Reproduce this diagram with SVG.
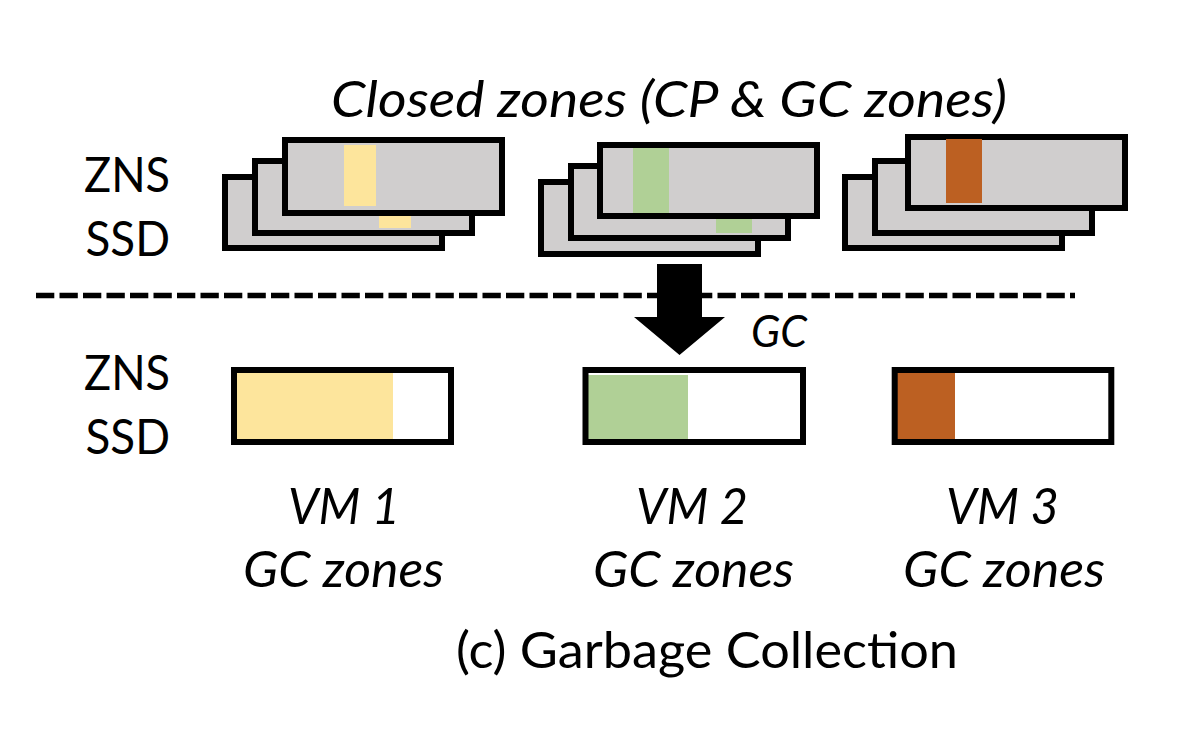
<svg xmlns="http://www.w3.org/2000/svg" width="1204" height="738" viewBox="0 0 1204 738">
<style>
.zone{fill:#D0CECE;stroke:#000;stroke-width:6}
.box{fill:none;stroke:#000;stroke-width:6}
.t{font-family:Lato,"Open Sans","Liberation Sans",sans-serif;fill:#000}
.i{font-style:italic}
.y{fill:#FDE59C}.g{fill:#B0D096}.o{fill:#BC6022}
</style>
<rect width="1204" height="738" fill="#fff"/>
<g id="label-closed">
<text class="t i" x="331" y="117" font-size="50" textLength="676" lengthAdjust="spacingAndGlyphs">Closed zones (CP &amp; GC zones)</text>
</g>
<g id="label-zns-top">
<text class="t" x="84" y="192" font-size="49" textLength="86" lengthAdjust="spacingAndGlyphs">ZNS</text>
<text class="t" x="85.5" y="256" font-size="49" textLength="84.5" lengthAdjust="spacingAndGlyphs">SSD</text>
</g>
<g id="label-zns-bottom">
<text class="t" x="84" y="390" font-size="49" textLength="86" lengthAdjust="spacingAndGlyphs">ZNS</text>
<text class="t" x="85.5" y="454" font-size="49" textLength="84.5" lengthAdjust="spacingAndGlyphs">SSD</text>
</g>
<g id="closed-vm1">
<rect class="zone" x="225" y="177" width="217" height="71"/>
<rect class="zone" x="255" y="161" width="217" height="72"/>
<rect class="y" x="379" y="170" width="32" height="58"/>
<rect class="zone" x="285" y="140" width="217" height="73"/>
<rect class="y" x="344" y="145" width="32" height="61"/>
</g>
<g id="closed-vm2">
<rect class="zone" x="541" y="182" width="217" height="72"/>
<rect class="zone" x="571" y="166" width="217" height="72"/>
<rect class="g" x="716" y="175" width="36" height="58"/>
<rect class="zone" x="600" y="145" width="217" height="71"/>
<rect class="g" x="633" y="148" width="36" height="65"/>
</g>
<g id="closed-vm3">
<rect class="zone" x="845" y="177" width="217" height="71"/>
<rect class="zone" x="875" y="161" width="217" height="72"/>
<rect class="zone" x="908" y="137" width="217" height="71"/>
<rect class="o" x="946" y="139" width="36" height="64"/>
</g>
<g id="connectors">
<line x1="36" y1="295.5" x2="1075" y2="295.5" stroke="#000" stroke-width="5.5" stroke-dasharray="18.3 5.2"/>
<polygon points="657,264 702,264 702,317 725,317 679.5,355 634,317 657,317" fill="#000"/>
<text class="t i" x="751" y="347" font-size="45" textLength="56" lengthAdjust="spacingAndGlyphs">GC</text>
</g>
<g id="gc-vm1">
<rect fill="#fff" x="234" y="370" width="217" height="72"/>
<rect class="y" x="236" y="373" width="157" height="66"/>
<rect class="box" x="234" y="370" width="217" height="72"/>
<text class="t i" x="288" y="524" font-size="51" textLength="112" lengthAdjust="spacingAndGlyphs">VM 1</text>
<text class="t i" x="243" y="587" font-size="51" textLength="201" lengthAdjust="spacingAndGlyphs">GC zones</text>
</g>
<g id="gc-vm2">
<rect fill="#fff" x="585.5" y="370" width="217.5" height="72"/>
<rect class="g" x="586" y="375" width="102" height="64"/>
<rect class="box" x="585.5" y="370" width="217.5" height="72"/>
<text class="t i" x="636" y="524" font-size="51" textLength="112" lengthAdjust="spacingAndGlyphs">VM 2</text>
<text class="t i" x="593" y="587" font-size="51" textLength="201" lengthAdjust="spacingAndGlyphs">GC zones</text>
</g>
<g id="gc-vm3">
<rect fill="#fff" x="894.7" y="370" width="216.6" height="72"/>
<rect class="o" x="896" y="373" width="59" height="66"/>
<rect class="box" x="894.7" y="370" width="216.6" height="72"/>
<text class="t i" x="946" y="524" font-size="51" textLength="113" lengthAdjust="spacingAndGlyphs">VM 3</text>
<text class="t i" x="903" y="587" font-size="51" textLength="202" lengthAdjust="spacingAndGlyphs">GC zones</text>
</g>
<g id="caption">
<text class="t" x="456" y="668" font-size="51" textLength="502" lengthAdjust="spacingAndGlyphs">(c) Garbage Collection</text>
</g>
</svg>
